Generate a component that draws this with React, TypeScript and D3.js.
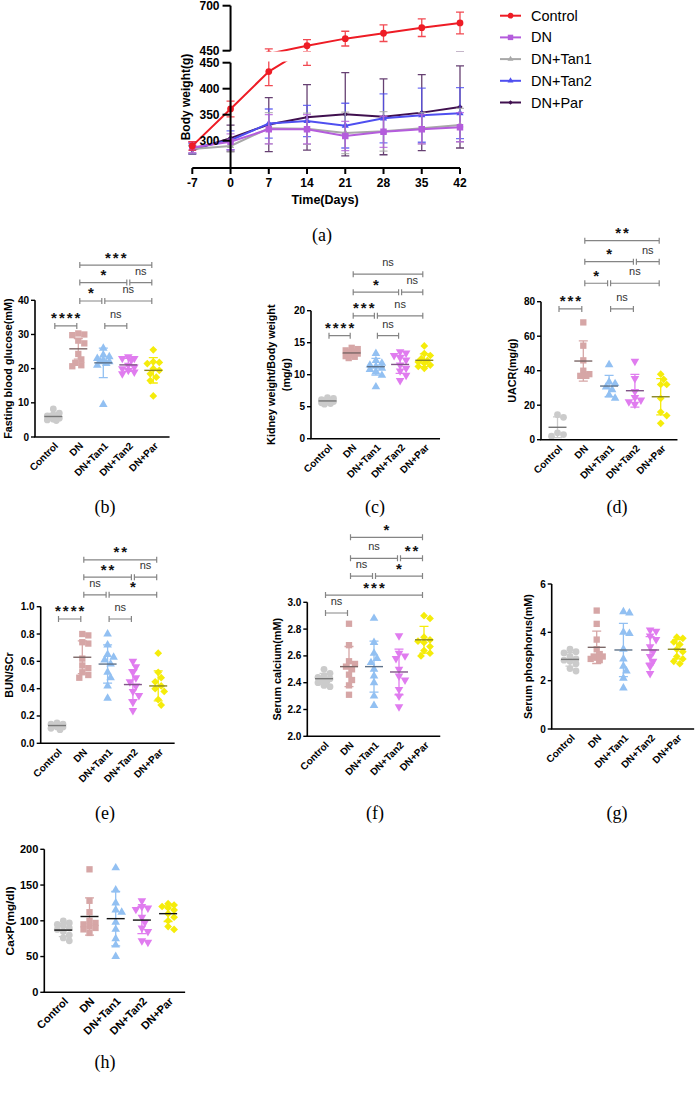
import React from "react";
import * as d3 from "d3";

const FONT = "'Liberation Sans', Arial, sans-serif";
const SERIF = "'Liberation Serif', 'Times New Roman', serif";

// groups shared by the dot plots
const groups = ["Control", "DN", "DN+Tan1", "DN+Tan2", "DN+Par"];
const groupColors = ["#cbcbcb", "#d6a6a6", "#92c0f2", "#e07cef", "#f5ec0a"];
const groupShapes = ["circle", "square", "triangle", "triangleDown", "diamond"];

// (a) body weight over time
const days = [-7, 0, 7, 14, 21, 28, 35, 42];
const bwControl = [290, 361, 433, 478, 517, 547, 578, 604];
const bwControlSd = [8, 15, 27, 33, 41, 46, 49, 60];
const bwDN = [287, 298, 322, 322, 309, 317, 322, 326];
const bwDNSd = [10, 15, 28, 28, 28, 30, 28, 28];
const bwTan1 = [284, 290, 324, 323, 315, 318, 324, 330];
const bwTan1Sd = [8, 12, 30, 30, 40, 38, 30, 32];
const bwTan2 = [285, 301, 333, 338, 329, 343, 349, 353];
const bwTan2Sd = [10, 18, 28, 30, 43, 47, 52, 49];
const bwPar = [282, 305, 331, 345, 351, 346, 354, 365];
const bwParSd = [8, 25, 52, 63, 80, 73, 73, 79];

// (b) fasting blood glucose
const bControl = [8.2, 7.0, 6.5, 6.2, 6.0, 5.8, 5.5, 5.2, 5.0, 4.8];
const bDN = [30.3, 29.8, 30.0, 28.2, 27.4, 24.3, 22.7, 21.7, 21.0, 20.7];
const bTan1 = [26, 24, 23.5, 23, 22.5, 22, 22, 21.5, 21, 9.5];
const bTan2 = [23.5, 23, 23, 22.5, 21, 20.5, 20, 19.5, 19, 18.5];
const bPar = [25.5, 22, 21.8, 21.5, 20, 19.5, 18.5, 17.5, 16.5, 12];
const bMean = [6.0, 25.8, 21.7, 21.1, 19.5];
const bSd = [0.9, 3.0, 4.3, 1.9, 3.7];
const bBrackets: [number, number, number, string][] = [
  [0, 1, 32.5, "****"], [2, 3, 32.5, "ns"],
  [1, 2, 39.8, "*"], [2, 4, 39.8, "ns"],
  [1, 3, 45.2, "*"], [3, 4, 45.2, "ns"],
  [1, 4, 50.3, "***"],
];

// (c) kidney weight / body weight
const cControl = [6.4, 6.3, 6.1, 6.0, 5.9, 5.9, 5.8, 5.6, 5.5, 5.4];
const cDN = [14.2, 14, 13.8, 13.6, 13.4, 13.3, 13.1, 12.9, 12.8, 12.6];
const cTan1 = [13.3, 12.2, 11.8, 11.5, 11.3, 11, 10.8, 10.5, 9.9, 8.1];
const cTan2 = [13.6, 13.4, 13.0, 12.7, 12.3, 11.5, 11, 10.6, 9.9, 9.1];
const cPar = [14.5, 13.3, 13, 12.5, 12.2, 12, 11.8, 11.5, 11.3, 11.0];
const cMean = [5.9, 13.4, 11.25, 11.6, 12.25];
const cSd = [0.35, 0.5, 1.3, 1.4, 1.0];
const cBrackets: [number, number, number, string][] = [
  [0, 1, 16.1, "****"], [2, 3, 16.1, "ns"],
  [1, 2, 19.2, "***"], [2, 4, 19.2, "ns"],
  [1, 3, 22.9, "*"], [3, 4, 22.9, "ns"],
  [1, 4, 25.7, "ns"],
];

// (d) UACR
const dControl = [14.5, 13, 4, 3, 2];
const dDN = [68, 54.5, 46, 40, 38, 37, 37];
const dTan1 = [43.5, 33.5, 32.5, 30.5, 29, 26, 24];
const dTan2 = [45.5, 35.5, 28, 24.5, 23, 22, 20.5];
const dPar = [38, 35, 32, 32, 24, 16, 14, 9.5];
const dMean = [7.2, 45.6, 31.1, 28.4, 24.9];
const dSd = [6, 11.7, 6.2, 9.5, 10.5];
const dBrackets: [number, number, number, string][] = [
  [0, 1, 75.8, "***"], [2, 3, 75.8, "ns"],
  [1, 2, 90.7, "*"], [2, 4, 90.7, "ns"],
  [1, 3, 103.2, "*"], [3, 4, 103.2, "ns"],
  [1, 4, 115.4, "**"],
];

// (e) BUN/SCr
const eControl = [0.15, 0.14, 0.14, 0.13, 0.13, 0.12, 0.12, 0.11, 0.10];
const eDN = [0.80, 0.79, 0.74, 0.73, 0.62, 0.57, 0.55, 0.52, 0.50, 0.48];
const eTan1 = [0.80, 0.72, 0.65, 0.63, 0.61, 0.58, 0.52, 0.48, 0.42, 0.33];
const eTan2 = [0.60, 0.56, 0.52, 0.48, 0.45, 0.42, 0.38, 0.35, 0.30, 0.24];
const ePar = [0.66, 0.52, 0.48, 0.45, 0.42, 0.40, 0.38, 0.32, 0.28];
const eMean = [0.13, 0.63, 0.58, 0.43, 0.42];
const eSd = [0.015, 0.12, 0.14, 0.11, 0.11];
const eBrackets: [number, number, number, string][] = [
  [0, 1, 0.91, "****"], [2, 3, 0.91, "ns"],
  [1, 2, 1.087, "ns"], [2, 4, 1.087, "*"],
  [1, 3, 1.216, "**"], [3, 4, 1.216, "ns"],
  [1, 4, 1.343, "**"],
];

// (f) serum calcium
const fControl = [2.50, 2.47, 2.45, 2.44, 2.43, 2.42, 2.41, 2.40, 2.38, 2.37];
const fDN = [2.84, 2.68, 2.56, 2.54, 2.52, 2.50, 2.46, 2.42, 2.38, 2.31];
const fTan1 = [2.88, 2.70, 2.62, 2.58, 2.55, 2.50, 2.45, 2.40, 2.30, 2.23];
const fTan2 = [2.75, 2.62, 2.60, 2.58, 2.50, 2.45, 2.42, 2.35, 2.30, 2.22];
const fPar = [2.90, 2.88, 2.74, 2.72, 2.71, 2.70, 2.67, 2.64, 2.62, 2.60];
const fMean = [2.43, 2.52, 2.52, 2.48, 2.72];
const fSd = [0.04, 0.15, 0.19, 0.17, 0.1];
const fBrackets: [number, number, number, string][] = [
  [0, 1, 2.92, "ns"],
  [0, 4, 3.054, "***"],
  [1, 2, 3.196, "ns"], [2, 4, 3.196, "*"],
  [1, 3, 3.328, "ns"], [3, 4, 3.328, "**"],
  [1, 4, 3.485, "*"],
];

// (g) serum phosphorus
const gControl = [3.3, 3.2, 3.15, 3.0, 2.9, 2.85, 2.8, 2.7, 2.5, 2.4];
const gDN = [4.9, 4.35, 3.7, 3.3, 3.1, 3.0, 3.0, 2.95, 2.9, 2.85];
const gTan1 = [4.85, 4.8, 4.0, 3.95, 3.3, 2.9, 2.6, 2.4, 2.1, 1.7];
const gTan2 = [4.1, 4.05, 3.85, 3.7, 3.4, 3.2, 3.0, 2.8, 2.6, 2.3];
const gPar = [3.8, 3.75, 3.6, 3.5, 3.3, 3.2, 3.0, 2.9, 2.8, 2.7];
const gMean = [2.88, 3.38, 3.27, 3.27, 3.3];
const gSd = [0.28, 0.67, 1.1, 0.55, 0.4];

// (h) Ca x P
const hControl = [100, 97, 95, 93, 90, 88, 85, 80, 76, 72];
const hDN = [172, 128, 112, 100, 97, 95, 92, 90, 88, 83];
const hTan1 = [174, 143, 125, 115, 112, 98, 88, 75, 66, 50];
const hTan2 = [128, 120, 118, 116, 105, 98, 90, 85, 72, 70];
const hPar = [124, 122, 120, 118, 115, 110, 105, 100, 92, 88];
const hMean = [87, 106, 103, 101, 110];
const hSd = [9, 26, 38, 19, 11];

const symbolFor = (shape: string, size: number) => {
  const type =
    shape === "circle"
      ? d3.symbolCircle
      : shape === "triangle" || shape === "triangleDown"
      ? d3.symbolTriangle
      : d3.symbolSquare;
  return d3.symbol(type, size)() as string;
};
const rotFor = (shape: string) =>
  shape === "triangleDown" ? 180 : shape === "diamond" ? 45 : 0;
const sizeFor = (shape: string) =>
  shape === "circle" ? 36 : shape === "square" ? 40 : shape === "diamond" ? 30 : 32;

// simple beeswarm: spread points sideways when they overlap, within a max width
function swarm(ys: number[], minDist: number, step: number, maxOff: number) {
  const order = d3.range(ys.length).sort((a, b) => ys[a] - ys[b]);
  const placed: { x: number; y: number }[] = [];
  const xs: number[] = new Array(ys.length).fill(0);
  const cands: number[] = [0];
  for (let k = 1; k * step <= maxOff; k++) cands.push(k * step, -k * step);
  for (const i of order) {
    const y = ys[i];
    let chosen = 0;
    let bestGap = -1;
    for (const cand of cands) {
      const gap = placed.length
        ? d3.min(placed, (p) => Math.hypot(p.x - cand, p.y - y)) as number
        : Infinity;
      if (gap >= minDist) {
        chosen = cand;
        bestGap = Infinity;
        break;
      }
      if (gap > bestGap) {
        bestGap = gap;
        chosen = cand;
      }
    }
    xs[i] = chosen;
    placed.push({ x: chosen, y });
  }
  return xs;
}

const Bracket = ({ x1, x2, y, label }: { x1: number; x2: number; y: number; label: string }) => {
  const star = label.includes("*");
  return (
    <g>
      <path
        d={`M${x1},${y - 3}V${y + 3}M${x1},${y}H${x2}M${x2},${y - 3}V${y + 3}`}
        stroke="#858585"
        strokeWidth={1.2}
        fill="none"
      />
      <text
        x={(x1 + x2) / 2 + (star ? 1 : 0)}
        y={star ? y - 2.5 : y - 8}
        textAnchor="middle"
        fontSize={star ? 15 : 11}
        fontWeight={star ? "bold" : "normal"}
        letterSpacing={star ? 2 : 0}
        fill={star ? "#111" : "#333"}
      >
        {label}
      </text>
    </g>
  );
};

type PanelProps = {
  axisX: number;
  cat0: number;
  step: number;
  yBottom: number;
  yTop: number;
  domain: [number, number];
  ticks: number[];
  fmt: string;
  title: string[];
  titleX: number[];
  values: number[][];
  means: number[];
  sds: number[];
  brackets?: [number, number, number, string][];
  label: string;
  labelX: number;
  labelY: number;
  fontSize?: number;
  meanDark?: boolean;
};

const DotPanel = (p: PanelProps) => {
  const fs = p.fontSize || 10;
  const y = d3.scaleLinear().domain(p.domain).range([p.yBottom, p.yTop]);
  const cx = (i: number) => p.cat0 + i * p.step;
  const fmt = d3.format(p.fmt);
  const xEnd = cx(4) + p.step * 0.65;
  const midY = (p.yBottom + p.yTop) / 2;
  return (
    <g>
      {/* points */}
      {p.values.map((vals, gi) => {
        const ys = vals.map((v) => y(v));
        const offs = swarm(ys, 5.5, 3, 8);
        const shape = groupShapes[gi];
        const path = symbolFor(shape, sizeFor(shape));
        return (
          <g key={`pts-${gi}`}>
            {ys.map((py, k) => (
              <path
                key={k}
                d={path}
                transform={`translate(${cx(gi) + offs[k]},${py}) rotate(${rotFor(shape)})`}
                fill={groupColors[gi]}
              />
            ))}
          </g>
        );
      })}
      {/* mean and sd */}
      {p.means.map((m, gi) => {
        const x = cx(gi);
        const c = groupColors[gi];
        const hi = y(m + p.sds[gi]);
        const lo = y(Math.max(p.domain[0], m - p.sds[gi]));
        const meanCol = p.meanDark ? "#111" : d3.interpolateRgb(c, "#333")(0.55);
        return (
          <g key={`err-${gi}`}>
            <path
              d={`M${x},${hi}V${lo}M${x - 4.5},${hi}H${x + 4.5}M${x - 4.5},${lo}H${x + 4.5}`}
              stroke={c}
              strokeWidth={1.3}
              fill="none"
            />
            <line x1={x - 9} x2={x + 9} y1={y(m)} y2={y(m)} stroke={meanCol} strokeWidth={1.4} />
          </g>
        );
      })}
      {/* brackets */}
      {(p.brackets || []).map(([a, b, v, lab], k) => (
        <Bracket key={k} x1={cx(a) + 1.5} x2={cx(b) - 1.5} y={y(v)} label={lab} />
      ))}
      {/* axes */}
      <line x1={p.axisX} x2={p.axisX} y1={p.yBottom} y2={p.yTop} stroke="#000" strokeWidth={1.6} />
      <line x1={p.axisX - 0.8} x2={xEnd} y1={p.yBottom} y2={p.yBottom} stroke="#000" strokeWidth={1.6} />
      {p.ticks.map((t) => (
        <g key={t}>
          <line x1={p.axisX - 4} x2={p.axisX} y1={y(t)} y2={y(t)} stroke="#000" strokeWidth={1.4} />
          <text x={p.axisX - 6} y={y(t)} dy="0.35em" textAnchor="end" fontSize={fs} fontWeight="bold">
            {fmt(t)}
          </text>
        </g>
      ))}
      {groups.map((g, gi) => (
        <text
          key={g}
          transform={`translate(${cx(gi) + 3},${p.yBottom + 7}) rotate(-45)`}
          textAnchor="end"
          dy="0.35em"
          fontSize={fs}
          fontWeight="bold"
        >
          {g}
        </text>
      ))}
      {p.title.map((t, k) => (
        <text
          key={t}
          transform={`translate(${p.titleX[k]},${midY}) rotate(-90)`}
          textAnchor="middle"
          dy="0.35em"
          fontSize={fs + 0.8}
          fontWeight="bold"
        >
          {t}
        </text>
      ))}
      <text x={p.labelX} y={p.labelY} dy="0.35em" textAnchor="middle" fontFamily={SERIF} fontSize={18}>
        {p.label}
      </text>
    </g>
  );
};

const bwSeries = [
  { name: "Control", values: bwControl, sd: bwControlSd, color: "#ee1c25", shape: "circle", size: 36 },
  { name: "DN", values: bwDN, sd: bwDNSd, color: "#b45cdc", shape: "square", size: 42 },
  { name: "DN+Tan1", values: bwTan1, sd: bwTan1Sd, color: "#a8a8a8", shape: "triangle", size: 22 },
  { name: "DN+Tan2", values: bwTan2, sd: bwTan2Sd, color: "#4f4ff0", shape: "triangle", size: 22 },
  { name: "DN+Par", values: bwPar, sd: bwParSd, color: "#40104f", shape: "diamond", size: 14 },
];

const BodyWeightPanel = () => {
  const x = d3.scaleLinear().domain([-7, 42]).range([192.3, 460]);
  const yLow = d3.scaleLinear().domain([250, 450]).range([166.7, 62.7]);
  const yHigh = d3.scaleLinear().domain([450, 700]).range([50.7, 5.7]);
  const x0 = x(0);
  const axisY = 168;
  const drawOrder = [4, 3, 2, 1, 0];

  const renderSeries = (ys: d3.ScaleLinear<number, number>) =>
    drawOrder.map((si) => {
      const s = bwSeries[si];
      const line = d3
        .line<number>()
        .x((_, i) => x(days[i]))
        .y((v) => ys(v));
      const sym = symbolFor(s.shape, s.size);
      return (
        <g key={s.name}>
          <path d={line(s.values) as string} fill="none" stroke={s.color} strokeWidth={2} />
          {s.values.map((v, i) => {
            const px = x(days[i]);
            const hi = ys(v + s.sd[i]);
            const lo = ys(v - s.sd[i]);
            return (
              <path
                key={i}
                d={`M${px},${hi}V${lo}M${px - 4},${hi}H${px + 4}M${px - 4},${lo}H${px + 4}`}
                stroke={s.color}
                strokeOpacity={0.8}
                strokeWidth={1.3}
                fill="none"
              />
            );
          })}
          {s.values.map((v, i) => (
            <path
              key={`m${i}`}
              d={sym}
              transform={`translate(${x(days[i])},${ys(v)}) rotate(${rotFor(s.shape)})`}
              fill={s.color}
            />
          ))}
        </g>
      );
    });

  return (
    <g>
      <defs>
        <clipPath id="clipLow">
          <rect x={170} y={61.5} width={320} height={130} />
        </clipPath>
        <clipPath id="clipHigh">
          <rect x={170} y={0} width={320} height={51.5} />
        </clipPath>
      </defs>
      <g clipPath="url(#clipLow)">{renderSeries(yLow)}</g>
      <g clipPath="url(#clipHigh)">{renderSeries(yHigh)}</g>

      {/* x axis */}
      <line x1={x(-7)} x2={x(42)} y1={axisY} y2={axisY} stroke="#000" strokeWidth={2} />
      {days.map((d) => (
        <g key={d}>
          <line x1={x(d)} x2={x(d)} y1={axisY} y2={axisY + 6} stroke="#000" strokeWidth={2} />
          <text x={x(d)} y={axisY + 15} dy="0.35em" textAnchor="middle" fontSize={12} fontWeight="bold">
            {d}
          </text>
        </g>
      ))}
      <text x={325} y={200} dy="0.35em" textAnchor="middle" fontSize={12.5} fontWeight="bold">
        Time(Days)
      </text>

      {/* broken y axis */}
      <line x1={x0} x2={x0} y1={axisY} y2={yLow(450)} stroke="#000" strokeWidth={2} />
      <line x1={x0} x2={x0} y1={yHigh(450)} y2={yHigh(700)} stroke="#000" strokeWidth={2} />
      {[300, 350, 400, 450].map((t) => (
        <g key={`l${t}`}>
          <line x1={x0 - 8} x2={x0} y1={yLow(t)} y2={yLow(t)} stroke="#000" strokeWidth={2} />
          <text x={x0 - 11} y={yLow(t)} dy="0.35em" textAnchor="end" fontSize={12} fontWeight="bold">
            {t}
          </text>
        </g>
      ))}
      {[450, 700].map((t) => (
        <g key={`h${t}`}>
          <line x1={x0 - 8} x2={x0} y1={yHigh(t)} y2={yHigh(t)} stroke="#000" strokeWidth={2} />
          <text x={x0 - 11} y={yHigh(t)} dy="0.35em" textAnchor="end" fontSize={12} fontWeight="bold">
            {t}
          </text>
        </g>
      ))}
      <text
        transform={`translate(186,97) rotate(-90)`}
        textAnchor="middle"
        dy="0.35em"
        fontSize={12}
        fontWeight="bold"
      >
        Body weight(g)
      </text>

      {/* legend */}
      {bwSeries.map((s, i) => {
        const ly = 15.7 + i * 21.7;
        return (
          <g key={s.name}>
            <line x1={500} x2={521} y1={ly} y2={ly} stroke={s.color} strokeWidth={2} />
            <path
              d={symbolFor(s.shape, s.size * 0.7)}
              transform={`translate(510.5,${ly}) rotate(${rotFor(s.shape)})`}
              fill={s.color}
            />
            <text x={531} y={ly} dy="0.35em" fontSize={14.5}>
              {s.name}
            </text>
          </g>
        );
      })}
      <text x={322} y={235} dy="0.35em" textAnchor="middle" fontFamily={SERIF} fontSize={18}>
        (a)
      </text>
    </g>
  );
};

export default function App() {
  return (
    <svg
      width={700}
      height={1095}
      fontFamily={FONT}
      style={{ position: "absolute", left: 0, top: 0, background: "#fff" }}
    >
      <BodyWeightPanel />
      <DotPanel
        axisX={35} cat0={53.3} step={25} yBottom={437} yTop={300.3} domain={[0, 40]}
        ticks={[0, 10, 20, 30, 40]} fmt="d" title={["Fasting blood glucose(mM)"]} titleX={[8]}
        values={[bControl, bDN, bTan1, bTan2, bPar]} means={bMean} sds={bSd} brackets={bBrackets}
        label="(b)" labelX={105} labelY={507}
      />
      <DotPanel
        axisX={311} cat0={327.5} step={24.2} yBottom={438.7} yTop={310.7} domain={[0, 20]}
        ticks={[0, 5, 10, 15, 20]} fmt="d" title={["Kidney weight/Body weight", "(mg/g)"]} titleX={[271.7, 286.7]}
        values={[cControl, cDN, cTan1, cTan2, cPar]} means={cMean} sds={cSd} brackets={cBrackets}
        label="(c)" labelX={375} labelY={507}
      />
      <DotPanel
        axisX={541} cat0={557.5} step={25.8} yBottom={439.7} yTop={301.7} domain={[0, 80]}
        ticks={[0, 20, 40, 60, 80]} fmt="d" title={["UACR(mg/g)"]} titleX={[512.5]}
        values={[dControl, dDN, dTan1, dTan2, dPar]} means={dMean} sds={dSd} brackets={dBrackets}
        label="(d)" labelX={617} labelY={507}
      />
      <DotPanel
        axisX={40.7} cat0={57} step={25.3} yBottom={743.3} yTop={606.7} domain={[0, 1]}
        ticks={[0, 0.2, 0.4, 0.6, 0.8, 1.0]} fmt=".1f" title={["BUN/SCr"]} titleX={[9]}
        values={[eControl, eDN, eTan1, eTan2, ePar]} means={eMean} sds={eSd} brackets={eBrackets}
        label="(e)" labelX={105} labelY={813}
      />
      <DotPanel
        axisX={307.3} cat0={324} step={25} yBottom={736.3} yTop={602.3} domain={[2, 3]}
        ticks={[2.0, 2.2, 2.4, 2.6, 2.8, 3.0]} fmt=".1f" title={["Serum calcium(mM)"]} titleX={[277]}
        values={[fControl, fDN, fTan1, fTan2, fPar]} means={fMean} sds={fSd} brackets={fBrackets}
        label="(f)" labelX={375} labelY={813}
      />
      <DotPanel
        axisX={551.7} cat0={570} step={26.7} yBottom={729} yTop={584} domain={[0, 6]}
        ticks={[0, 2, 4, 6]} fmt="d" title={["Serum phosphorus(mM)"]} titleX={[528]}
        values={[gControl, gDN, gTan1, gTan2, gPar]} means={gMean} sds={gSd}
        label="(g)" labelX={617} labelY={813}
      />
      <DotPanel
        axisX={44.3} cat0={63.3} step={26.2} yBottom={992.3} yTop={849.3} domain={[0, 200]}
        ticks={[0, 50, 100, 150, 200]} fmt="d" title={["Ca×P(mg/dl)"]} titleX={[10]}
        values={[hControl, hDN, hTan1, hTan2, hPar]} means={hMean} sds={hSd}
        label="(h)" labelX={105} labelY={1062} fontSize={11} meanDark
      />
    </svg>
  );
}
